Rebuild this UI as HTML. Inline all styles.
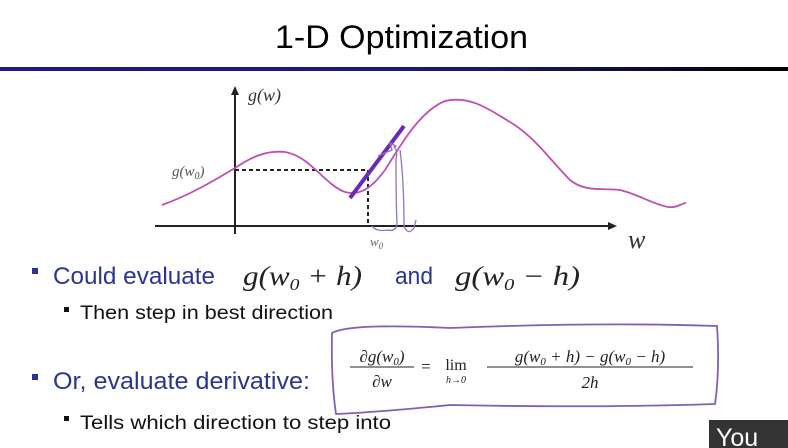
<!DOCTYPE html>
<html><head><style>
body{margin:0;background:#fff;}
svg{display:block;}
.s{font-family:"Liberation Sans",sans-serif;}
.m{font-family:"Liberation Serif",serif;font-style:italic;}
</style></head><body>
<svg width="788" height="448" viewBox="0 0 788 448" xmlns="http://www.w3.org/2000/svg">
<defs><linearGradient id="g" x1="0" x2="1"><stop offset="0" stop-color="#1a1a8a"/><stop offset="0.6" stop-color="#1a1a6a"/><stop offset="1" stop-color="#000"/></linearGradient></defs>
<text x="275" y="48" class="s" font-size="32" fill="#000" textLength="253" lengthAdjust="spacingAndGlyphs">1-D Optimization</text>
<rect x="0" y="67" width="788" height="4" fill="url(#g)"/>
<line x1="235" y1="90" x2="235" y2="234" stroke="#222" stroke-width="2"/>
<polygon points="235,86 231,95 239,95" fill="#222"/>
<line x1="155" y1="226" x2="610" y2="226" stroke="#222" stroke-width="2"/>
<polygon points="617,226 608,222 608,230" fill="#222"/>
<text x="248" y="101" class="m" font-size="18" fill="#333">g(w)</text>
<text x="172" y="176" class="m" font-size="15" fill="#555">g(w<tspan font-size="10" dy="3">0</tspan><tspan dy="-3">)</tspan></text>
<text x="370" y="246" class="m" font-size="13" fill="#666">w<tspan font-size="9" dy="3">0</tspan></text>
<text x="628" y="248" class="m" font-size="26" fill="#333">w</text>
<path d="M235,170 L368,170 L368,225" fill="none" stroke="#222" stroke-width="2" stroke-dasharray="4,3"/>
<path d="M162,205 C190,195 215,180 235,168 C250,158 265,150 285,152 C310,156 325,185 345,192 C360,196 372,188 385,170 C398,150 418,112 445,101 C470,95 490,110 510,122 C535,137 550,160 570,180 C585,192 600,188 620,190 C640,195 650,203 668,207 C677,208 680,204 686,203" fill="none" stroke="#c050b0" stroke-width="1.8"/>
<line x1="350" y1="198" x2="404" y2="126" stroke="#6a2ab8" stroke-width="4"/>
<path d="M378,156 L392,150 L390,143 L396,146 L394,147 Q398,150 396,160 Q396,200 397,225 Q395,232 388,230 Q376,232 372,226 M400,150 Q404,180 404,226 Q408,236 414,228 L416,220" fill="none" stroke="#9070c8" stroke-width="1.3"/>
<rect x="32" y="268" width="6" height="6" fill="#2a3590"/>
<text x="53" y="284" class="s" font-size="24" fill="#2a3590" textLength="162" lengthAdjust="spacingAndGlyphs">Could evaluate</text>
<text x="243" y="285" class="m" font-size="27" fill="#222" textLength="119" lengthAdjust="spacingAndGlyphs">g(w<tspan font-size="17" dy="5">0</tspan><tspan dy="-5"> + h)</tspan></text>
<text x="395" y="284" class="s" font-size="24" fill="#2a3590" textLength="38" lengthAdjust="spacingAndGlyphs">and</text>
<text x="455" y="285" class="m" font-size="27" fill="#222" textLength="125" lengthAdjust="spacingAndGlyphs">g(w<tspan font-size="17" dy="5">0</tspan><tspan dy="-5"> − h)</tspan></text>
<rect x="64" y="307" width="5" height="5" fill="#111"/>
<text x="80" y="319" class="s" font-size="19" fill="#111" textLength="253" lengthAdjust="spacingAndGlyphs">Then step in best direction</text>
<rect x="32" y="374" width="6" height="6" fill="#2a3590"/>
<text x="53" y="389" class="s" font-size="24" fill="#2a3590" textLength="257" lengthAdjust="spacingAndGlyphs">Or, evaluate derivative:</text>
<path d="M332,333 Q350,323 450,328 Q600,322 717,326 Q720,370 715,404 Q600,408 450,405 Q380,412 336,414 Q331,380 332,333 Z" fill="none" stroke="#8060b8" stroke-width="1.8"/>
<g class="m" fill="#222">
<text x="382" y="362" text-anchor="middle" font-size="17">∂g(w<tspan font-size="11" dy="3">0</tspan><tspan dy="-3">)</tspan></text>
<line x1="350" y1="367" x2="414" y2="367" stroke="#222" stroke-width="1"/>
<text x="382" y="387" text-anchor="middle" font-size="17">∂w</text>
<text x="420" y="372" font-size="17">=</text>
<text x="456" y="370" text-anchor="middle" font-size="16" font-style="normal">lim</text>
<text x="456" y="383" text-anchor="middle" font-size="10">h→0</text>
<text x="590" y="362" text-anchor="middle" font-size="17">g(w<tspan font-size="11" dy="3">0</tspan><tspan dy="-3"> + h) − g(w</tspan><tspan font-size="11" dy="3">0</tspan><tspan dy="-3"> − h)</tspan></text>
<line x1="487" y1="367" x2="693" y2="367" stroke="#222" stroke-width="1"/>
<text x="590" y="388" text-anchor="middle" font-size="17">2h</text>
</g>
<rect x="64" y="416" width="5" height="5" fill="#111"/>
<text x="80" y="429" class="s" font-size="19" fill="#111" textLength="311" lengthAdjust="spacingAndGlyphs">Tells which direction to step into</text>
<rect x="709" y="420" width="79" height="28" fill="#333"/>
<text x="716" y="446" class="s" font-size="25" fill="#fff">You</text>
</svg>
</body></html>
